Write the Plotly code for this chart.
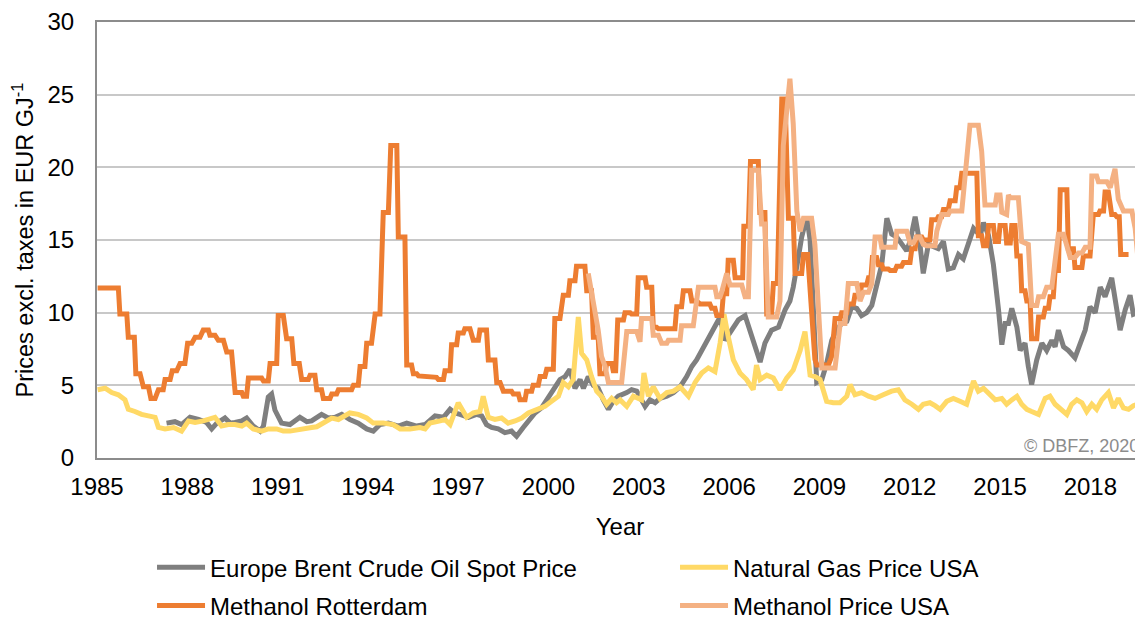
import plotly.graph_objects as go

# Europe Brent Crude Oil Spot Price (EUR/GJ)
brent_year = [1987.31, 1987.59, 1987.81, 1988.09, 1988.37, 1988.64, 1988.81, 1988.98, 1989.25, 1989.42,
              1989.58, 1989.81, 1989.97, 1990.19, 1990.42, 1990.53, 1990.69, 1990.80, 1990.91, 1991.13,
              1991.41, 1991.74, 1991.97, 1992.13, 1992.46, 1992.68, 1992.91, 1993.13, 1993.40, 1993.68,
              1993.96, 1994.18, 1994.40, 1994.68, 1995.01, 1995.29, 1995.62, 1995.90, 1996.23, 1996.51,
              1996.73, 1996.89, 1997.06, 1997.34, 1997.61, 1997.78, 1997.94, 1998.11, 1998.33, 1998.55,
              1998.77, 1998.94, 1999.16, 1999.38, 1999.55, 1999.77, 1999.94, 2000.16, 2000.38, 2000.55,
              2000.71, 2000.88, 2001.05, 2001.16, 2001.32, 2001.49, 2001.65, 2001.82, 2001.99, 2002.15,
              2002.32, 2002.60, 2002.76, 2002.93, 2003.21, 2003.37, 2003.54, 2003.70, 2003.93, 2004.15,
              2004.37, 2004.59, 2004.76, 2004.92, 2005.09, 2005.31, 2005.48, 2005.70, 2005.86, 2006.08,
              2006.31, 2006.53, 2006.69, 2006.86, 2007.03, 2007.19, 2007.41, 2007.64, 2007.86, 2008.02,
              2008.13, 2008.30, 2008.41, 2008.58, 2008.69, 2008.80, 2008.91, 2009.08, 2009.24, 2009.41,
              2009.57, 2009.74, 2009.91, 2010.07, 2010.24, 2010.40, 2010.57, 2010.74, 2010.90, 2011.07,
              2011.24, 2011.40, 2011.57, 2011.73, 2011.90, 2012.01, 2012.18, 2012.34, 2012.45, 2012.62,
              2012.79, 2012.95, 2013.12, 2013.28, 2013.45, 2013.62, 2013.78, 2013.95, 2014.12, 2014.34,
              2014.45, 2014.62, 2014.78, 2014.95, 2015.06, 2015.17, 2015.28, 2015.39, 2015.56, 2015.67,
              2015.83, 2015.94, 2016.05, 2016.22, 2016.39, 2016.55, 2016.72, 2016.83, 2016.94, 2017.11,
              2017.27, 2017.49, 2017.66, 2017.83, 2017.99, 2018.16, 2018.33, 2018.49, 2018.71, 2018.88,
              2018.99, 2019.16, 2019.32, 2019.43, 2019.54, 2019.65, 2019.75]
brent_price = [2.4, 2.5, 2.3, 2.8, 2.65, 2.45, 2.0, 2.4, 2.75, 2.4,
               2.45, 2.55, 2.75, 2.2, 1.85, 2.2, 4.2, 4.4, 3.3, 2.4,
               2.3, 2.8, 2.5, 2.55, 3.0, 2.75, 2.8, 3.0, 2.65, 2.4,
               2.0, 1.85, 2.3, 2.4, 2.2, 2.4, 2.2, 2.3, 2.9, 2.8,
               3.35, 3.1, 3.0, 2.8, 3.0, 2.9, 2.3, 2.1, 2.0, 1.75,
               1.85, 1.5, 2.1, 2.65, 3.1, 3.45, 4.0, 4.7, 5.4, 5.6,
               6.1, 4.8, 5.4, 4.8, 5.6, 5.0, 4.8, 4.0, 3.35, 3.9,
               4.25, 4.5, 4.7, 4.6, 3.55, 4.0, 3.8, 4.1, 4.25, 4.5,
               4.9, 5.6, 6.3, 6.75, 7.4, 8.1, 8.8, 9.7, 8.1, 8.8,
               9.5, 9.8, 8.8, 7.65, 6.6, 7.9, 8.8, 9.0, 10.2, 10.8,
               11.75, 13.8, 15.2, 16.6, 15.0, 10.2, 5.2, 5.4, 6.5, 8.1,
               8.8, 9.25, 9.4, 10.4, 10.3, 9.8, 10.0, 10.5, 11.75, 13.3,
               16.5, 15.4, 15.2, 14.7, 14.25, 14.9, 16.6, 14.7, 12.7, 14.7,
               14.5, 14.4, 14.9, 13.0, 13.1, 14.0, 13.7, 14.7, 15.8, 15.3,
               16.2, 15.3, 13.3, 10.2, 7.8, 9.25, 9.25, 10.3, 9.0, 7.4,
               7.9, 6.3, 5.05, 6.75, 7.9, 7.4, 8.1, 7.65, 8.8, 7.65,
               7.4, 6.9, 7.9, 8.8, 10.4, 10.0, 11.75, 11.1, 12.4, 10.2,
               8.8, 10.2, 11.2, 9.9, 10.0, 9.25, 9.6]

# Natural Gas Price USA
gas_year = [1985.02, 1985.27, 1985.49, 1985.71, 1985.93, 1986.04, 1986.26, 1986.48, 1986.71, 1986.93,
            1987.04, 1987.26, 1987.54, 1987.81, 1988.04, 1988.26, 1988.53, 1988.76, 1988.92, 1989.14,
            1989.36, 1989.58, 1989.81, 1989.97, 1990.19, 1990.47, 1990.69, 1990.97, 1991.19, 1991.41,
            1991.63, 1991.85, 1992.13, 1992.30, 1992.52, 1992.80, 1993.02, 1993.24, 1993.40, 1993.68,
            1993.96, 1994.18, 1994.51, 1994.84, 1995.07, 1995.40, 1995.73, 1995.90, 1996.06, 1996.40,
            1996.56, 1996.73, 1997.00, 1997.28, 1997.50, 1997.72, 1997.83, 1998.00, 1998.22, 1998.44,
            1998.66, 1998.89, 1999.11, 1999.33, 1999.61, 1999.88, 2000.10, 2000.33, 2000.49, 2000.66,
            2000.82, 2000.99, 2001.10, 2001.27, 2001.43, 2001.60, 2001.76, 2001.93, 2002.10, 2002.26,
            2002.38, 2002.60, 2002.82, 2003.09, 2003.17, 2003.32, 2003.48, 2003.70, 2003.93, 2004.15,
            2004.37, 2004.65, 2004.87, 2005.09, 2005.31, 2005.53, 2005.70, 2005.83, 2005.97, 2006.14,
            2006.36, 2006.58, 2006.80, 2006.91, 2007.03, 2007.25, 2007.47, 2007.69, 2007.91, 2008.13,
            2008.36, 2008.52, 2008.69, 2008.85, 2009.02, 2009.24, 2009.46, 2009.68, 2009.91, 2010.02,
            2010.18, 2010.40, 2010.63, 2010.85, 2011.12, 2011.40, 2011.62, 2011.84, 2012.07, 2012.29,
            2012.45, 2012.67, 2012.84, 2013.01, 2013.23, 2013.45, 2013.67, 2013.89, 2014.12, 2014.28,
            2014.45, 2014.67, 2014.84, 2015.06, 2015.22, 2015.39, 2015.56, 2015.72, 2015.89, 2016.05,
            2016.28, 2016.50, 2016.66, 2016.83, 2017.05, 2017.22, 2017.38, 2017.55, 2017.72, 2017.88,
            2018.05, 2018.21, 2018.38, 2018.60, 2018.77, 2018.93, 2019.10, 2019.27, 2019.43, 2019.60,
            2019.75]
gas_price = [4.7, 4.8, 4.5, 4.35, 4.0, 3.35, 3.2, 3.0, 2.9, 2.8,
             2.1, 2.0, 2.1, 1.85, 2.55, 2.45, 2.55, 2.65, 2.8, 2.2,
             2.3, 2.3, 2.2, 2.4, 2.0, 1.85, 2.0, 2.0, 1.85, 1.85,
             1.95, 2.0, 2.1, 2.15, 2.4, 2.75, 2.65, 2.9, 3.1, 3.0,
             2.75, 2.4, 2.4, 2.3, 2.0, 2.0, 2.1, 2.0, 2.4, 2.55,
             2.65, 2.3, 3.8, 2.8, 3.1, 3.2, 4.25, 2.8, 2.65, 2.75,
             2.4, 2.55, 2.75, 3.1, 3.35, 3.55, 3.9, 4.25, 5.2, 4.9,
             5.4, 9.7, 7.2, 6.75, 5.6, 4.6, 4.25, 3.7, 4.1, 3.8,
             4.0, 3.55, 4.25, 4.0, 5.85, 4.25, 4.9, 4.1, 4.5, 4.6,
             4.9, 4.25, 5.2, 5.85, 6.2, 5.95, 7.9, 9.9, 8.35, 6.75,
             5.85, 5.4, 4.7, 6.4, 5.4, 5.7, 5.5, 4.7, 5.5, 6.05,
             7.4, 8.7, 5.7, 5.6, 5.4, 3.9, 3.8, 3.8, 4.25, 5.05,
             4.35, 4.5, 4.25, 4.1, 4.35, 4.6, 4.7, 4.0, 3.7, 3.35,
             3.7, 3.8, 3.6, 3.35, 3.9, 4.1, 3.9, 3.7, 5.3, 4.6,
             4.8, 4.35, 4.0, 4.1, 3.7, 4.0, 4.25, 3.7, 3.35, 3.2,
             3.0, 4.1, 4.25, 3.7, 3.35, 3.0, 3.7, 4.0, 3.8, 3.2,
             3.7, 3.35, 4.0, 4.5, 3.45, 4.1, 3.45, 3.35, 3.6, 3.7,
             3.0]

# Methanol Rotterdam
rott_year = [1985.02, 1985.71, 1985.76, 1985.99, 1986.04, 1986.24, 1986.29, 1986.43, 1986.54, 1986.71,
             1986.79, 1986.93, 1987.04, 1987.20, 1987.26, 1987.43, 1987.50, 1987.65, 1987.76, 1987.92,
             1988.01, 1988.15, 1988.26, 1988.42, 1988.53, 1988.70, 1988.75, 1988.92, 1989.03, 1989.20,
             1989.31, 1989.47, 1989.59, 1989.81, 1989.86, 1989.97, 1990.03, 1990.47, 1990.53, 1990.69,
             1990.75, 1990.97, 1991.02, 1991.19, 1991.30, 1991.47, 1991.54, 1991.72, 1991.80, 1992.02,
             1992.08, 1992.24, 1992.30, 1992.46, 1992.52, 1992.74, 1992.80, 1992.96, 1993.02, 1993.46,
             1993.52, 1993.68, 1993.74, 1993.90, 1993.96, 1994.12, 1994.24, 1994.40, 1994.51, 1994.68,
             1994.76, 1994.96, 1995.01, 1995.23, 1995.29, 1995.45, 1995.51, 1995.62, 1995.68, 1996.28,
             1996.34, 1996.51, 1996.56, 1996.73, 1996.78, 1996.95, 1997.00, 1997.17, 1997.22, 1997.39,
             1997.50, 1997.67, 1997.72, 1997.94, 1998.00, 1998.22, 1998.28, 1998.39, 1998.50, 1998.77,
             1998.83, 1999.00, 1999.05, 1999.22, 1999.27, 1999.44, 1999.49, 1999.66, 1999.72, 1999.88,
             1999.94, 2000.16, 2000.21, 2000.38, 2000.49, 2000.66, 2000.71, 2000.88, 2000.93, 2001.21,
             2001.27, 2001.43, 2001.49, 2001.65, 2001.71, 2001.88, 2001.93, 2002.10, 2002.15, 2002.23,
             2002.30, 2002.49, 2002.54, 2002.71, 2002.76, 2002.93, 2002.98, 2003.21, 2003.26, 2003.43,
             2003.48, 2003.59, 2003.65, 2004.20, 2004.26, 2004.42, 2004.48, 2004.70, 2004.76, 2004.92,
             2005.03, 2005.36, 2005.42, 2005.53, 2005.59, 2005.75, 2005.81, 2005.92, 2005.97, 2006.14,
             2006.20, 2006.45, 2006.49, 2006.64, 2006.71, 2006.97, 2007.02, 2007.19, 2007.25, 2007.41,
             2007.47, 2007.60, 2007.75, 2007.86, 2007.97, 2008.13, 2008.19, 2008.41, 2008.47, 2008.61,
             2008.85, 2008.91, 2009.30, 2009.41, 2009.52, 2009.69, 2009.74, 2009.91, 2009.96, 2010.13,
             2010.18, 2010.35, 2010.40, 2010.57, 2010.63, 2010.71, 2010.76, 2010.90, 2010.96, 2011.07,
             2011.12, 2011.29, 2011.35, 2011.51, 2011.57, 2011.73, 2011.79, 2012.01, 2012.07, 2012.18,
             2012.23, 2012.40, 2012.45, 2012.67, 2012.73, 2012.90, 2012.95, 2013.06, 2013.12, 2013.28,
             2013.34, 2013.51, 2013.56, 2013.67, 2013.73, 2014.23, 2014.28, 2014.39, 2014.45, 2014.56,
             2014.62, 2014.78, 2014.84, 2014.95, 2015.00, 2015.17, 2015.22, 2015.34, 2015.39, 2015.50,
             2015.56, 2015.67, 2015.72, 2015.83, 2015.89, 2016.00, 2016.05, 2016.22, 2016.28, 2016.44,
             2016.50, 2016.61, 2016.66, 2016.77, 2016.83, 2016.94, 2017.00, 2017.22, 2017.27, 2017.44,
             2017.49, 2017.72, 2017.77, 2017.99, 2018.10, 2018.27, 2018.32, 2018.44, 2018.49, 2018.60,
             2018.71, 2018.82, 2018.88, 2018.96, 2019.01, 2019.27]
rott_price = [11.7, 11.7, 9.9, 9.9, 8.3, 8.3, 5.8, 5.8, 4.9, 4.9,
              4.1, 4.1, 4.7, 4.7, 5.4, 5.4, 6.0, 6.0, 6.5, 6.5,
              7.9, 7.9, 8.3, 8.3, 8.8, 8.8, 8.45, 8.45, 8.1, 8.1,
              7.3, 7.3, 4.5, 4.5, 4.25, 4.25, 5.5, 5.5, 5.3, 5.3,
              6.5, 6.5, 9.8, 9.8, 8.2, 8.2, 6.5, 6.5, 5.4, 5.4,
              5.7, 5.7, 4.7, 4.7, 4.1, 4.1, 4.4, 4.4, 4.7, 4.7,
              5.0, 5.0, 6.3, 6.3, 7.9, 7.9, 9.9, 9.9, 16.9, 16.9,
              21.5, 21.5, 15.2, 15.2, 6.4, 6.4, 5.8, 5.8, 5.65, 5.55,
              5.4, 5.4, 6.0, 6.0, 7.8, 7.8, 8.6, 8.6, 8.9, 8.9,
              8.1, 8.1, 8.8, 8.8, 6.75, 6.75, 5.2, 5.2, 4.6, 4.6,
              4.4, 4.4, 4.0, 4.0, 4.6, 4.6, 5.0, 5.0, 5.6, 5.6,
              6.1, 6.1, 9.6, 9.6, 11.2, 11.2, 12.2, 12.2, 13.2, 13.2,
              11.5, 11.5, 8.3, 8.3, 5.8, 5.8, 6.5, 6.5, 6.0, 6.0,
              9.5, 9.5, 10.0, 10.0, 9.9, 9.9, 12.4, 12.4, 11.75, 11.75,
              9.0, 9.0, 8.9, 8.9, 10.4, 10.4, 11.5, 11.5, 10.8, 10.8,
              10.6, 10.6, 10.3, 10.3, 9.8, 9.8, 11.3, 11.3, 13.6, 13.6,
              12.4, 12.4, 15.95, 15.95, 20.4, 20.4, 16.9, 16.9, 9.9, 9.9,
              12.0, 12.0, 24.7, 24.7, 16.5, 16.5, 12.7, 12.7, 14.0, 14.0,
              6.8, 6.4, 6.4, 7.0, 9.6, 9.6, 10.0, 10.0, 10.6, 10.6,
              11.2, 11.2, 11.9, 11.9, 12.4, 12.4, 13.8, 13.8, 13.3, 13.3,
              13.0, 13.0, 12.9, 12.9, 13.2, 13.2, 13.45, 13.45, 14.4, 14.4,
              15.2, 15.2, 15.0, 15.0, 16.4, 16.4, 16.6, 16.6, 17.1, 17.1,
              17.7, 17.7, 18.6, 18.6, 19.6, 19.6, 15.3, 15.3, 14.6, 14.6,
              16.0, 16.0, 14.9, 14.9, 16.0, 16.0, 14.8, 14.8, 16.0, 16.0,
              13.9, 13.9, 11.5, 11.5, 10.8, 10.8, 8.2, 8.2, 9.7, 9.7,
              10.3, 10.3, 11.1, 11.1, 12.9, 12.9, 18.45, 18.45, 14.4, 14.4,
              13.1, 13.1, 13.9, 13.9, 16.75, 16.75, 17.0, 17.0, 18.3, 18.3,
              16.75, 16.75, 16.6, 16.6, 14.0, 14.0]

# Methanol Price USA
usa_year = [2001.32, 2001.49, 2001.65, 2001.76, 2001.88, 2001.99, 2002.43, 2002.60, 2002.76, 2002.93,
            2003.04, 2003.09, 2003.43, 2003.48, 2003.65, 2003.76, 2003.93, 2003.98, 2004.37, 2004.42,
            2004.81, 2004.98, 2005.53, 2005.59, 2005.70, 2005.75, 2005.92, 2006.03, 2006.42, 2006.53,
            2006.64, 2006.75, 2006.97, 2007.08, 2007.19, 2007.30, 2007.58, 2007.69, 2007.80, 2008.02,
            2008.13, 2008.25, 2008.36, 2008.47, 2008.74, 2008.85, 2008.97, 2009.08, 2009.52, 2009.69,
            2009.85, 2009.96, 2010.24, 2010.35, 2010.46, 2010.63, 2010.74, 2010.85, 2011.01, 2011.07,
            2011.51, 2011.57, 2011.90, 2012.01, 2012.12, 2012.23, 2012.34, 2012.45, 2012.56, 2012.84,
            2012.90, 2013.06, 2013.28, 2013.34, 2013.73, 2013.84, 2014.00, 2014.28, 2014.39, 2014.50,
            2014.84, 2014.89, 2015.00, 2015.06, 2015.22, 2015.28, 2015.34, 2015.61, 2015.72, 2015.94,
            2016.05, 2016.22, 2016.28, 2016.44, 2016.55, 2016.72, 2016.83, 2016.94, 2017.11, 2017.22,
            2017.33, 2017.49, 2017.61, 2017.72, 2017.83, 2017.99, 2018.05, 2018.21, 2018.27, 2018.55,
            2018.66, 2018.82, 2018.93, 2019.10, 2019.38, 2019.49, 2019.60, 2019.75]
usa_price = [12.7, 10.8, 8.8, 7.0, 6.3, 5.2, 5.2, 8.7, 8.7, 8.7,
             8.0, 9.6, 9.6, 8.45, 8.45, 7.9, 7.9, 8.1, 8.1, 9.1,
             9.1, 11.75, 11.75, 11.1, 11.1, 11.4, 12.7, 11.9, 11.9, 11.1,
             11.1, 19.8, 19.8, 16.1, 16.1, 9.7, 9.7, 10.8, 21.5, 26.1,
             23.0, 17.0, 15.6, 16.5, 16.5, 14.7, 10.2, 6.2, 6.2, 9.25,
             9.25, 12.0, 12.0, 10.8, 11.4, 11.4, 12.0, 15.2, 15.2, 14.5,
             14.5, 15.6, 15.6, 14.8, 14.8, 15.2, 15.2, 14.7, 14.6, 14.6,
             15.6, 16.75, 16.75, 17.0, 17.0, 19.7, 22.9, 22.9, 21.1, 17.4,
             17.4, 18.1, 18.1, 16.9, 16.75, 18.1, 17.9, 17.9, 14.9, 14.7,
             10.5, 10.5, 11.1, 11.1, 11.75, 11.75, 13.3, 15.4, 15.4, 14.7,
             13.8, 13.8, 14.1, 14.1, 14.5, 14.5, 19.4, 19.4, 19.0, 19.0,
             18.6, 19.9, 17.8, 17.0, 17.0, 15.8, 13.3, 13.3]

x_ticks = [1985, 1988, 1991, 1994, 1997, 2000, 2003, 2006, 2009, 2012, 2015, 2018]

FONT = "Liberation Sans, Arial, sans-serif"

fig = go.Figure()
fig.add_trace(go.Scatter(x=brent_year, y=brent_price, mode="lines", name="Europe Brent Crude Oil Spot Price",
                         line=dict(color="#7f7f7f", width=5), legend="legend", legendgroup="a"))
fig.add_trace(go.Scatter(x=gas_year, y=gas_price, mode="lines", name="Natural Gas Price USA",
                         line=dict(color="#ffd966", width=5), legend="legend2", legendgroup="b"))
fig.add_trace(go.Scatter(x=rott_year, y=rott_price, mode="lines", name="Methanol Rotterdam",
                         line=dict(color="#ed7d31", width=5), legend="legend", legendgroup="c"))
fig.add_trace(go.Scatter(x=usa_year, y=usa_price, mode="lines", name="Methanol Price USA",
                         line=dict(color="#f4b183", width=5), legend="legend2", legendgroup="d"))

# page body has an 8px margin, so the figure is 8px smaller and margins shifted
legend_style = dict(orientation="v", yanchor="top", xanchor="left", y=-0.2,
                    font=dict(family=FONT, size=24, color="#000000"),
                    bgcolor="rgba(0,0,0,0)", itemwidth=48, tracegroupgap=4)

fig.update_layout(
    width=1135, height=610,
    margin=dict(l=89, r=0, t=14, b=160, autoexpand=False),
    paper_bgcolor="white", plot_bgcolor="white",
    font=dict(family=FONT, size=24, color="#000000"),
    showlegend=True,
    legend=dict(x=0.0526, **legend_style),
    legend2=dict(x=0.5526, **legend_style),
    xaxis=dict(range=[1985, 2019.75], tickvals=x_ticks, ticktext=[str(t) for t in x_ticks],
               showgrid=False, zeroline=False, showline=True, linecolor="#8c8c8c", linewidth=2,
               mirror=True, ticks="", tickfont=dict(size=24), ticklabelstandoff=6,
               title=dict(text="Year", font=dict(size=24), standoff=19)),
    yaxis=dict(range=[0, 30], dtick=5, showgrid=True, gridcolor="#c8c8c8", gridwidth=2,
               zeroline=False, showline=True, linecolor="#8c8c8c", linewidth=2, mirror=True,
               ticks="", tickfont=dict(size=24), ticklabelstandoff=16,
               title=dict(text="Prices excl. taxes in EUR GJ<sup>-1</sup>", font=dict(size=23.5), standoff=17)),
    annotations=[dict(text="© DBFZ, 2020", x=1, y=0, xref="paper", yref="paper",
                      xanchor="right", yanchor="bottom", xshift=-2, yshift=0, showarrow=False,
                      font=dict(family=FONT, size=18, color="#8c8c8c"))],
)

fig.write_html("out.html")
